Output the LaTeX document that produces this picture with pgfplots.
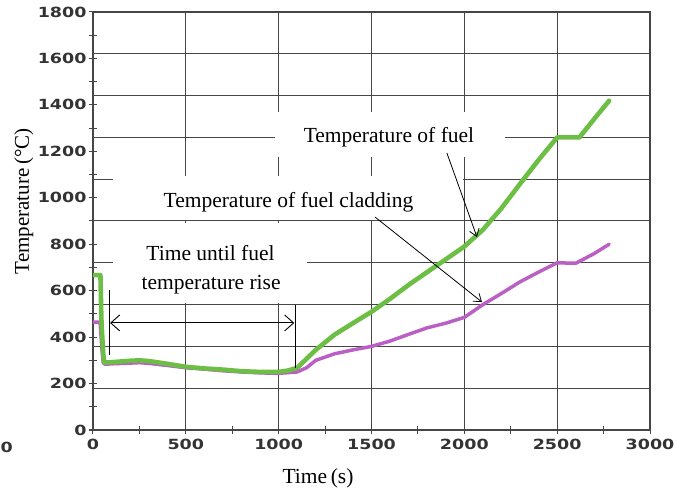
\documentclass[border=0pt]{standalone}
\usepackage{fontspec}
\setmainfont{Liberation Serif}
\newfontfamily\tickfont[FakeStretch=1.25]{DejaVu Sans Bold}
\usepackage{pgfplots}
\usepackage{pgfplotstable}
\pgfplotsset{compat=1.18}
\usetikzlibrary{arrows.meta}

\definecolor{fuelgreen}{RGB}{108,190,69}
\definecolor{cladpurple}{RGB}{186,96,196}
\definecolor{gridgray}{RGB}{70,70,70}

% Fuel temperature (deg C) versus time (s)
\pgfplotstableread{
t T
0 667
40 667
42 600
45 480
50 400
55 330
60 295
65 290
100 292
200 298
250 300
300 297
400 285
500 272
600 265
700 260
800 253
900 250
1000 250
1050 256
1100 268
1200 345
1300 410
1400 460
1500 509
1600 565
1700 625
1800 680
1900 735
2000 790
2100 862
2200 955
2300 1060
2400 1163
2500 1260
2620 1260
2700 1340
2780 1418
}\fueldata

% Fuel cladding temperature (deg C) versus time (s)
\pgfplotstableread{
t T
0 465
38 465
42 420
48 350
55 290
65 283
100 285
200 288
250 290
300 287
400 278
500 268
600 262
700 255
800 250
900 246
1000 244
1100 250
1150 268
1200 300
1300 328
1400 345
1500 360
1600 383
1700 412
1800 440
1900 460
2000 485
2100 540
2200 588
2300 638
2400 680
2500 720
2600 718
2700 760
2780 800
}\claddata

\begin{document}
\begin{tikzpicture}
\useasboundingbox (-93pt,-65pt) rectangle (592pt,430pt);
\begin{axis}[
  at={(0,0)}, anchor=south west,
  scale only axis, width=557pt, height=418pt,
  xmin=0, xmax=3000, ymin=0, ymax=1800,
  xtick={0,500,...,3000}, ytick={0,200,...,1800},
  minor x tick num=1, minor y tick num=1,
  tick pos=left,
  tick align=center,
  major tick length=8pt, minor tick length=8pt,
  xmajorgrids,
  extra y ticks={180,360,...,1620},
  extra y tick labels={},
  extra y tick style={grid=major, major tick length=0pt},
  grid style={gridgray, line width=1pt},
  axis line style={gridgray, line width=1.1pt},
  tick style={gridgray, line width=1pt},
  /pgf/number format/assume math mode=true,
  /pgf/number format/1000 sep={},
  tick label style={font=\tickfont\fontsize{14}{14}\selectfont, text=black!80},
  yticklabel style={xshift=1pt},
  xticklabel style={yshift=-2pt},
  xlabel={Time\,(s)},
  ylabel={Temperature\,(°C)},
  xlabel style={at={(axis description cs:0.404,-0.115)}, anchor=center, font=\fontsize{21.5}{24}\selectfont},
  ylabel style={at={(axis description cs:-0.124,0.547)}, anchor=center, font=\fontsize{21}{24}\selectfont},
]
% white panels behind the annotations
\fill[white] (axis cs:980,1176) rectangle (axis cs:2219,1369);
\fill[white] (axis cs:108,906) rectangle (axis cs:1993,1094);
\fill[white] (axis cs:108,547) rectangle (axis cs:1153,891);

\addplot[cladpurple, line width=3.5pt, line join=round, line cap=round] table[x=t, y=T] {\claddata};
\addplot[fuelgreen, line width=4.6pt, line join=round, line cap=round] table[x=t, y=T] {\fueldata};

\begin{scope}[every node/.style={font=\fontsize{21.5}{24}\selectfont, anchor=base}]
\node at (axis cs:1594,1236) {Temperature of fuel};
\node at (axis cs:1053,956) {Temperature of fuel cladding};
\node at (axis cs:633,728) {Time until fuel};
\node at (axis cs:636,603) {temperature rise};
\end{scope}

% pointers and the interval marker
\draw[black, line width=0.8pt, -{Straight Barb[length=7pt, width=10pt]}] (axis cs:1906,1193) -- (axis cs:2068,831);
\draw[black, line width=0.8pt, -{Straight Barb[length=7pt, width=10pt]}] (axis cs:1519,917) -- (axis cs:2095,551);
\draw[black, line width=0.9pt] (axis cs:88,603) -- (axis cs:88,323);
\draw[black, line width=0.9pt] (axis cs:1088,538) -- (axis cs:1088,267);
\draw[black, line width=0.9pt, {Straight Barb[length=9pt, width=16pt]}-{Straight Barb[length=9pt, width=16pt]}] (axis cs:92,461) -- (axis cs:1084,461);
\end{axis}
\node[anchor=east, inner sep=0pt, font=\tickfont\fontsize{14}{14}\selectfont, text=black!80] at (-80pt,-17pt) {3000};
\end{tikzpicture}
\end{document}
